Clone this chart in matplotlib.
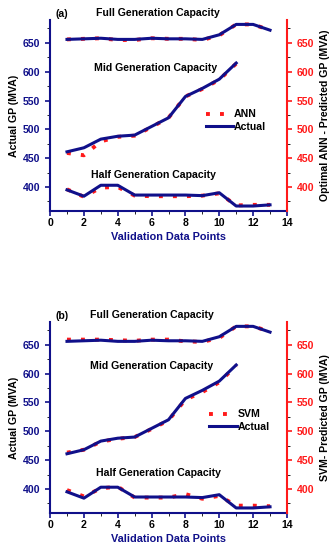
import matplotlib
matplotlib.use('Agg')
import matplotlib.pyplot as plt
from matplotlib.ticker import MultipleLocator

plt.rcParams['font.family'] = ['Liberation Sans', 'DejaVu Sans']
plt.rcParams['font.weight'] = 'bold'

navy = '#10108a'
red = '#ff1a1a'

x_full = [1, 2, 3, 4, 5, 6, 7, 8, 9, 10, 11, 12, 13]
x_mid = [1, 2, 3, 4, 5, 6, 7, 8, 9, 10, 11]

# actual values (same in both panels)
actual_full = [656, 657, 658, 656, 656, 658, 657, 657, 656, 664, 682, 682, 672]
actual_mid = [461, 468, 483, 488, 490, 505, 520, 557, 571, 587, 615]
actual_half = [395, 384, 403, 403, 386, 386, 386, 386, 385, 390, 367, 367, 369]

# ANN predictions
ann_full = [656, 657, 658, 655, 655, 658, 657, 657, 655, 663, 682, 682, 672]
ann_mid = [459, 455, 479, 487, 489, 504, 520, 557, 570, 586, 614]
ann_half = [396, 383, 399, 400, 385, 384, 384, 384, 385, 389, 368, 369, 369]

# SVM predictions
svm_full = [659, 659, 659, 658, 657, 659, 659, 656, 655, 662, 682, 682, 673]
svm_mid = [463, 468, 482, 487, 490, 504, 519, 555, 568, 585, 614]
svm_half = [398, 387, 401, 404, 385, 385, 385, 391, 383, 388, 371, 371, 370]

FS = 7.6


def panel(ax, pred, label, tag, rlabel, txt, legpos):
    full, mid, half = pred
    dot = dict(color=red, lw=2.8, dashes=(1, 2.6))
    ax.plot(x_full, full, ':', **dot)
    ax.plot(x_full, actual_full, '-', color=navy, lw=2.2)
    ax.plot(x_mid, mid, ':', label=label, **dot)
    ax.plot(x_mid, actual_mid, '-', color=navy, lw=2.2, label='Actual')
    ax.plot(x_full, half, ':', **dot)
    ax.plot(x_full, actual_half, '-', color=navy, lw=2.2)

    ax.set_xlim(0, 14)
    ax.set_ylim(358, 690)
    ax.xaxis.set_major_locator(MultipleLocator(2))
    ax.xaxis.set_minor_locator(MultipleLocator(1))
    ax.set_yticks([400, 450, 500, 550, 600, 650])
    ax.yaxis.set_minor_locator(MultipleLocator(25))
    ax.tick_params(axis='y', colors=navy, labelsize=FS, width=1.2)
    ax.tick_params(axis='x', colors=navy, labelcolor='black', labelsize=FS, width=1.2, pad=1.5)
    ax.spines['left'].set_color(navy)
    ax.spines['bottom'].set_color(navy)
    ax.spines['left'].set_linewidth(1.5)
    ax.spines['bottom'].set_linewidth(1.5)
    ax.spines['top'].set_visible(False)
    ax.spines['right'].set_visible(False)
    ax.set_xlabel('Validation Data Points', color=navy, fontsize=7.8, fontweight='bold', labelpad=3)
    ax.set_ylabel('Actual GP (MVA)', color='black', fontsize=FS, fontweight='bold', labelpad=3)

    ax2 = ax.twinx()
    ax2.set_ylim(358, 690)
    ax2.set_yticks([400, 450, 500, 550, 600, 650])
    ax2.yaxis.set_minor_locator(MultipleLocator(25))
    ax2.tick_params(axis='y', colors=red, labelsize=FS, width=1.2)
    ax2.spines['right'].set_color(red)
    ax2.spines['right'].set_linewidth(1.5)
    for s in ['top', 'left', 'bottom']:
        ax2.spines[s].set_visible(False)
    ax2.set_ylabel(rlabel, color='black', fontsize=FS, fontweight='bold', labelpad=4)

    ax.text(0.025, 1.015, tag, transform=ax.transAxes, fontsize=FS, fontweight='bold', va='baseline')
    names = ['Full Generation Capacity', 'Mid Generation Capacity', 'Half Generation Capacity']
    for name, (tx, ty) in zip(names, txt):
        ax.text(tx, ty, name, ha='center', va='baseline', fontsize=FS, fontweight='bold')

    leg = ax.legend(loc='upper left', bbox_to_anchor=legpos, frameon=False, fontsize=FS,
                    handlelength=2.6, handletextpad=0.1, borderpad=0.1, labelspacing=0.25)
    for t in leg.get_texts():
        t.set_fontweight('bold')


fig = plt.figure(figsize=(3.36, 5.5), dpi=100)
ax_a = fig.add_axes([0.149, 0.616, 0.705, 0.348])
ax_b = fig.add_axes([0.149, 0.067, 0.705, 0.348])
panel(ax_a, (ann_full, ann_mid, ann_half), 'ANN', '(a)', 'Optimal ANN - Predicted GP (MVA)',
      [(6.4, 696), (6.25, 601), (6.1, 416)], (0.63, 0.565))
panel(ax_b, (svm_full, svm_mid, svm_half), 'SVM', '(b)', 'SVM- Predicted GP (MVA)',
      [(6.0, 696), (6.0, 608), (6.4, 423)], (0.645, 0.575))

fig.savefig('out.png', dpi=100)
